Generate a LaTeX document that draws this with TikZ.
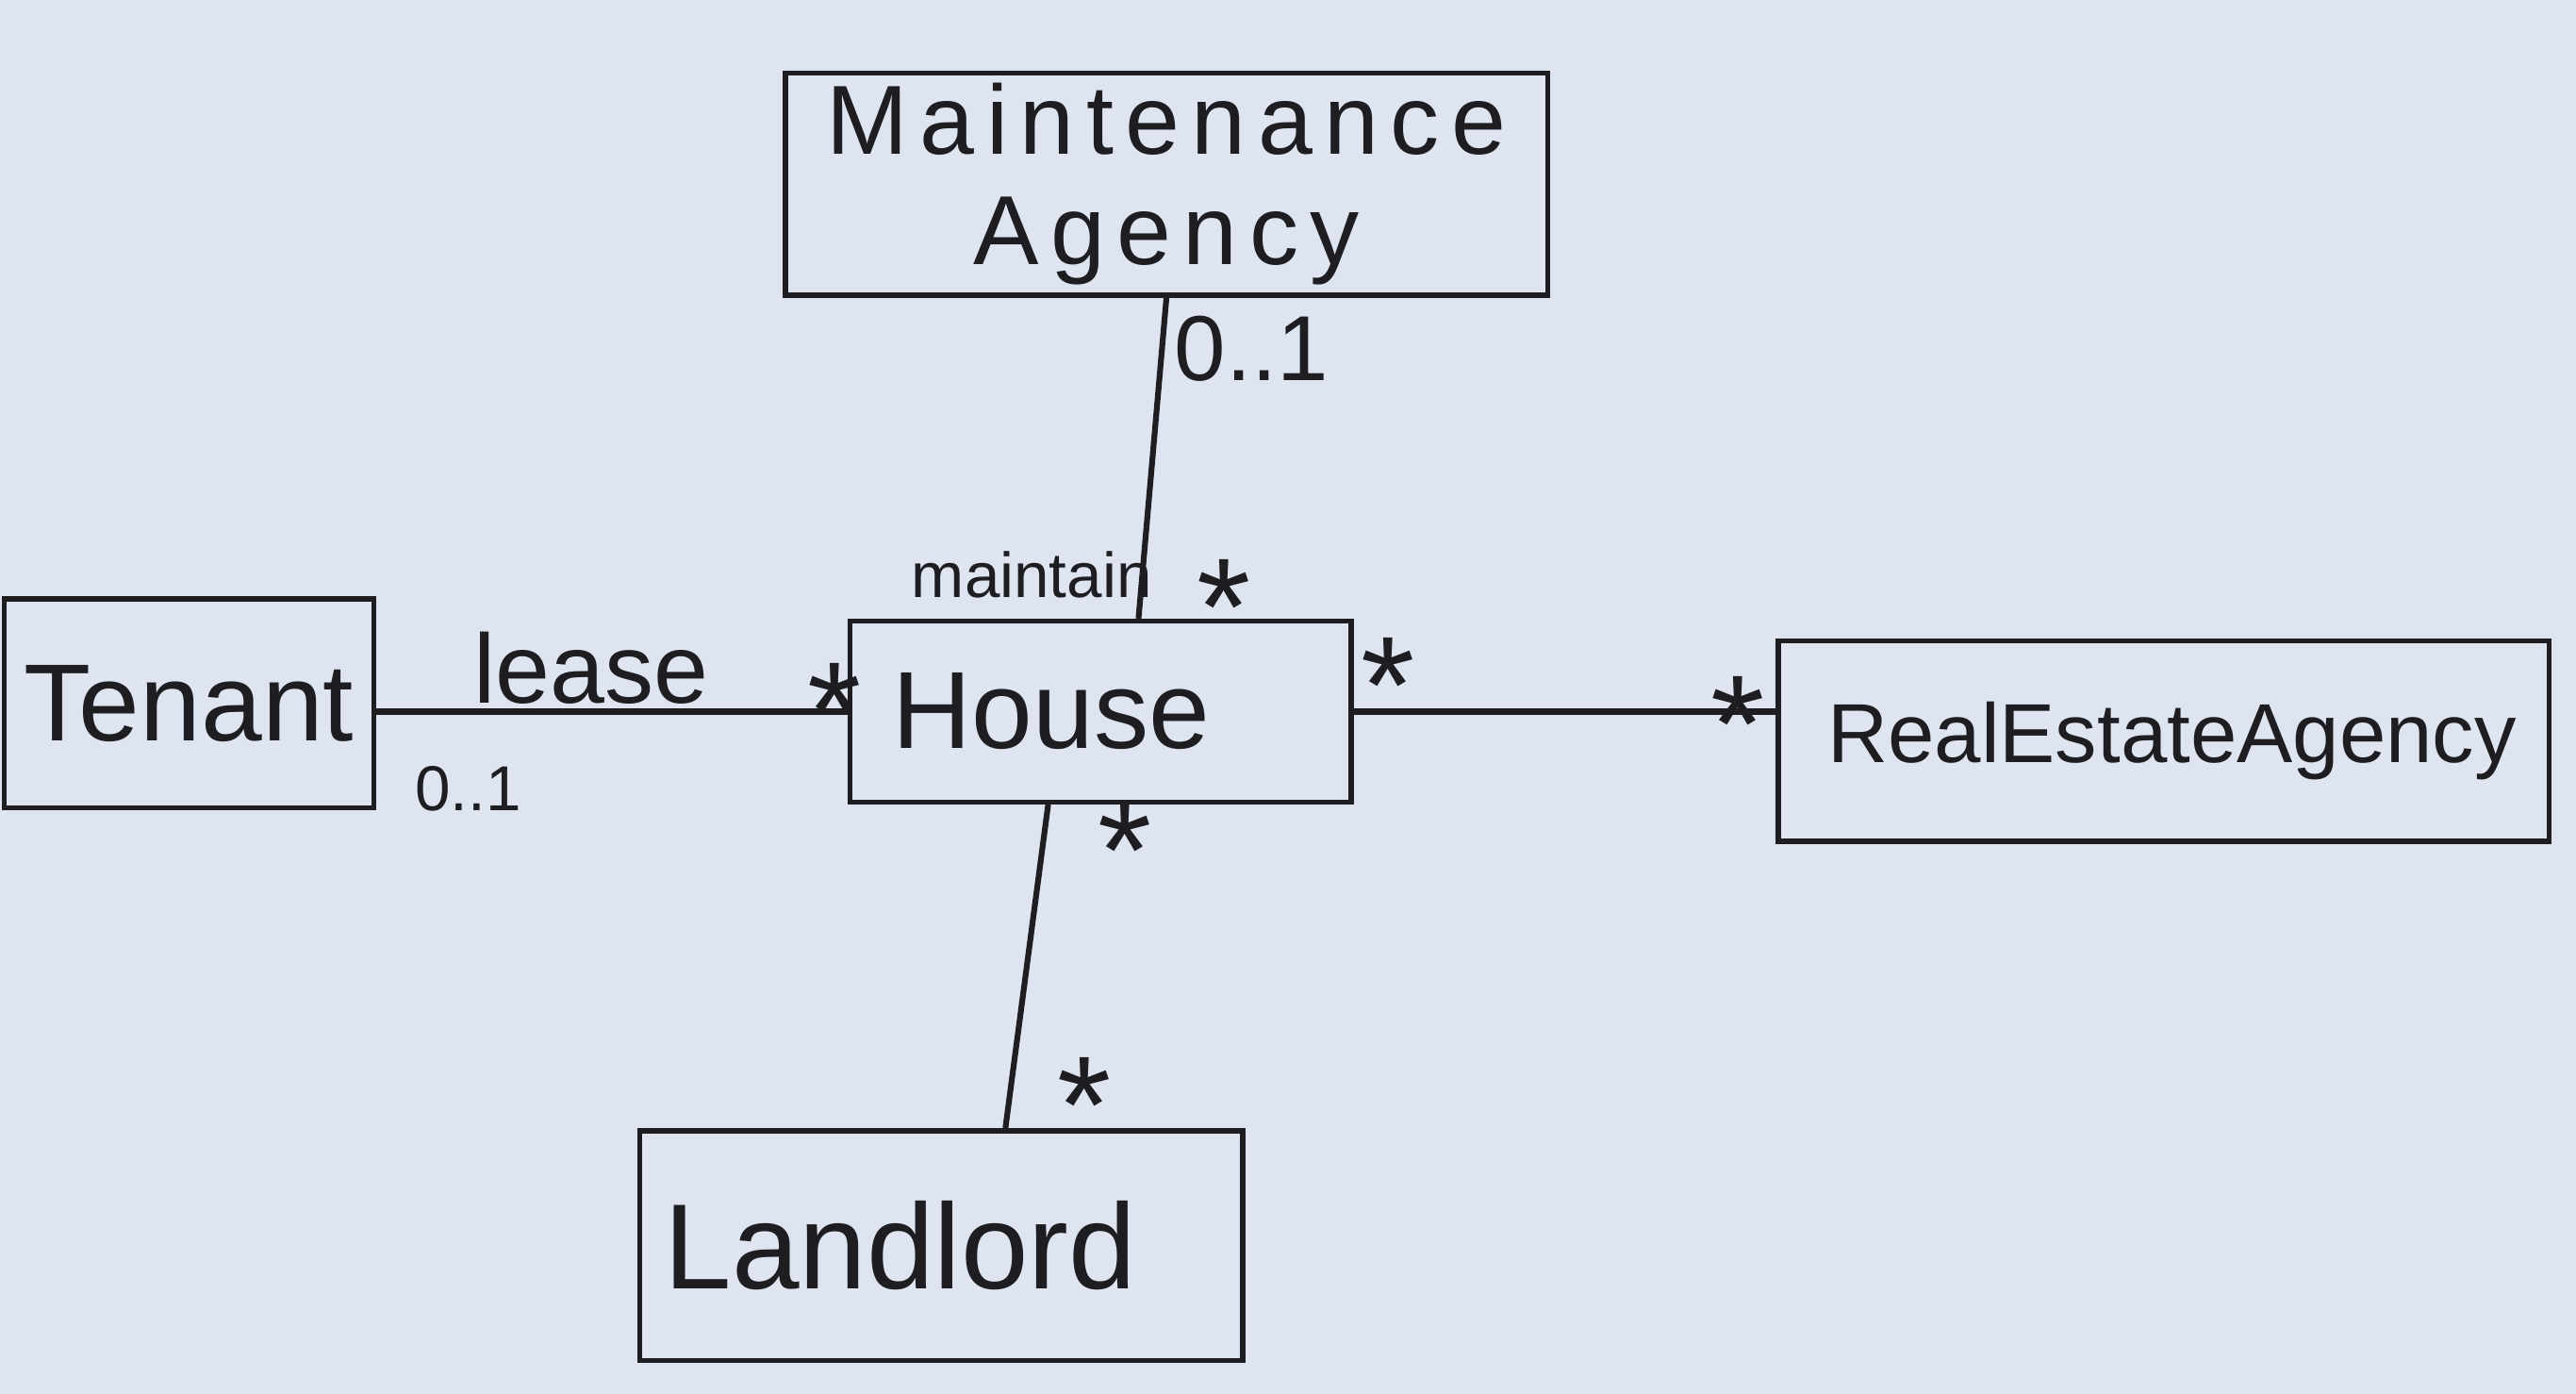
\documentclass[tikz,border=0pt]{standalone}
\usepackage{fontspec}
\setmainfont{Liberation Sans}
\usetikzlibrary{positioning,calc}
\definecolor{paper}{RGB}{222,229,240}
\definecolor{ink}{RGB}{30,30,34}
\tikzset{
  every picture/.style={line width=0.9pt},
  cls/.style={draw=ink,rectangle,align=center,text=ink,inner sep=0pt},
  lbl/.style={text=ink,inner sep=1pt},
  mult/.style={text=ink,inner sep=0pt,yshift=-1.25mm,font=\fontsize{24}{24}\selectfont},
  assoc/.style={draw=ink,line width=1pt},
}

\begin{document}
\begin{tikzpicture}[x=1cm,y=1cm]
\fill[paper] (0,0) rectangle (15.68,8.48);
\useasboundingbox (0,0) rectangle (15.68,8.48);
% classes
\node[cls,minimum width=46.4mm,minimum height=13.5mm,font=\fontsize{17}{19}\selectfont\addfontfeatures{LetterSpace=12}] (MA) at (7.10,7.36) {Maintenance\\Agency};
\node[cls,minimum width=30.5mm,minimum height=11mm,font=\fontsize{19}{22}\selectfont] (House) at (6.70,4.15) {House\hspace*{6mm}};
\node[cls,minimum width=22.5mm,minimum height=12.7mm,font=\fontsize{19}{22}\selectfont] (Tenant) at (1.15,4.20) {Tenant};
\node[cls,minimum width=46.9mm,minimum height=12.2mm,font=\fontsize{14.5}{16}\selectfont] (REA) at (13.17,3.97) {\hspace*{1mm}RealEstateAgency};
\node[cls,minimum width=36.7mm,minimum height=14mm,font=\fontsize{21}{24}\selectfont] (Landlord) at (5.73,0.90) {Landlord\hspace*{5mm}};
% associations
\draw[assoc] (MA.south) -- ([xshift=2.3mm]House.north);
\draw[assoc] (House.west -| Tenant.east) -- (House.west);
\draw[assoc] (House.east) -- (House.east -| REA.west);
\draw[assoc] ([xshift=-3.2mm]House.south) -- ([xshift=3.9mm]Landlord.north);
% roles and multiplicities
\node[lbl,font=\fontsize{16}{16}\selectfont] (mMA) at (7.62,6.36) {0..1};
\node[lbl,font=\fontsize{11}{11}\selectfont] (rMaint) at (6.28,4.98) {maintain};
\node[mult] (mHtop) at (7.45,4.91) {*};
\node[lbl,font=\fontsize{17}{17}\selectfont,anchor=base] (rLease) at (3.60,4.20) {lease};
\node[mult] (mHl) at (5.08,4.28) {*};
\node[lbl,font=\fontsize{11}{11}\selectfont] (mT) at (2.85,3.68) {0..1};
\node[mult] (mHr) at (8.45,4.43) {*};
\node[mult] (mR) at (10.58,4.20) {*};
\node[mult] (mHb) at (6.85,3.43) {*};
\node[mult] (mL) at (6.60,1.88) {*};
\end{tikzpicture}
\end{document}
